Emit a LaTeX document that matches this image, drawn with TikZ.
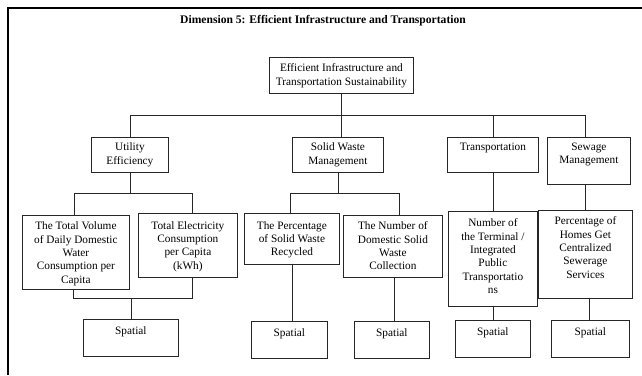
\documentclass[tikz,border=0pt]{standalone}
\usepackage{fontspec}
\setmainfont{Liberation Serif}
\begin{document}
\begin{tikzpicture}[x=1pt,y=-1pt,
  box/.style={draw=black!85, line width=0.8pt, rectangle, inner sep=0pt, anchor=north west},
  txt/.style={anchor=north, inner sep=0pt, align=center,
    font=\fontsize{11.3pt}{13.3pt}\selectfont},
  link/.style={draw=black!85, line width=0.8pt},
  frame/.style={draw=black, line width=2.5pt}]
\useasboundingbox (0,0) rectangle (642,375);

% outer frame (top and left edges)
\draw[frame] (8,375) -- (8,8) -- (642,8);

% heading
\node[font=\fontsize{11.6pt}{13pt}\selectfont\bfseries, inner sep=0pt] (title) at (323,21)
  {Dimension 5: Efficient Infrastructure and Transportation};

% root
\node[box, minimum width=144pt, minimum height=36pt] (top) at (269,57) {};
% categories
\node[box, minimum width=77pt, minimum height=35pt] (util) at (91,137) {};
\node[box, minimum width=91pt, minimum height=35pt] (sw) at (292,137) {};
\node[box, minimum width=91pt, minimum height=35pt] (trn) at (447,137) {};
\node[box, minimum width=83pt, minimum height=47pt] (sew) at (547,137) {};
% indicators
\node[box, minimum width=107pt, minimum height=74pt] (b1) at (22,215) {};
\node[box, minimum width=99pt, minimum height=64pt] (b2) at (138,213) {};
\node[box, minimum width=95pt, minimum height=51pt] (b3) at (244,213) {};
\node[box, minimum width=99pt, minimum height=62pt] (b4) at (343,215) {};
\node[box, minimum width=89pt, minimum height=95pt] (b5) at (448,211) {};
\node[box, minimum width=94pt, minimum height=88pt] (b6) at (538,210) {};
% measurement type
\node[box, minimum width=95pt, minimum height=37pt] (sp1) at (83,319) {};
\node[box, minimum width=76pt, minimum height=37pt] (sp2) at (251,321) {};
\node[box, minimum width=75pt, minimum height=37pt] (sp3) at (354,321) {};
\node[box, minimum width=75pt, minimum height=37pt] (sp4) at (455,320) {};
\node[box, minimum width=78pt, minimum height=37pt] (sp5) at (551,320) {};

% labels
\node[txt] (topT) at ([yshift=-6.8pt]top.north) {Efficient Infrastructure and\\Transportation Sustainability};
\node[txt] (utilT) at ([yshift=-5.8pt]util.north) {Utility\\Efficiency};
\node[txt] (swT) at ([yshift=-5.8pt]sw.north) {Solid Waste\\Management};
\node[txt] (trnT) at ([yshift=-5.8pt]trn.north) {Transportation};
\node[txt] (sewT) at ([yshift=-5.8pt]sew.north) {Sewage\\Management};
\node[txt] (b1T) at ([yshift=-6.8pt]b1.north) {The Total Volume\\of Daily Domestic\\Water\\Consumption per\\Capita};
\node[txt] (b2T) at ([yshift=-8.3pt]b2.north) {Total Electricity\\Consumption\\per Capita\\(kWh)};
\node[txt] (b3T) at ([yshift=-8.3pt]b3.north) {The Percentage\\of Solid Waste\\Recycled};
\node[txt] (b4T) at ([yshift=-6.8pt]b4.north) {The Number of\\Domestic Solid\\Waste\\Collection};
\node[txt] (b5T) at ([yshift=-7.8pt]b5.north) {Number of\\the Terminal /\\Integrated\\Public\\Transportatio\\ns};
\node[txt] (b6T) at ([yshift=-6.8pt]b6.north) {Percentage of\\Homes Get\\Centralized\\Sewerage\\Services};
\node[txt] (sp1T) at ([yshift=-7.3pt]sp1.north) {Spatial};
\node[txt] (sp2T) at ([yshift=-7.3pt]sp2.north) {Spatial};
\node[txt] (sp3T) at ([yshift=-7.3pt]sp3.north) {Spatial};
\node[txt] (sp4T) at ([yshift=-7.3pt]sp4.north) {Spatial};
\node[txt] (sp5T) at ([yshift=-7.3pt]sp5.north) {Spatial};

% bus levels
\coordinate (bus1) at (0,115);
\coordinate (bus2) at (0,193);
\coordinate (bus3) at (0,298);

% root to categories
\draw[link] (top.south) -- (top.south |- sw.north);
\draw[link] (util.north) |- ([xshift=-3.5pt]sew.north |- bus1) -- ([xshift=-3.5pt]sew.north);
\draw[link] (trn.north) -- (trn.north |- bus1);

% utility efficiency branch
\draw[link] (util.south) -- (util.south |- bus2);
\draw[link] ([xshift=-1.5pt]b1.north) |- ([xshift=4.5pt]b2.north |- bus2) -- ([xshift=4.5pt]b2.north);
\draw[link] ([xshift=-2.5pt]b1.south) |- ([xshift=4.5pt]b2.south |- bus3) -- ([xshift=4.5pt]b2.south);
\draw[link] (sp1.north) -- (sp1.north |- bus3);

% solid waste branch
\draw[link] (sw.south) -- (sw.south |- bus2);
\draw[link] ([xshift=-2pt]b3.north) |- ([xshift=6.5pt]b4.north |- bus2) -- ([xshift=6.5pt]b4.north);
\draw[link] (b3.south) -- (b3.south |- sp2.north);
\draw[link] ([xshift=1.5pt]b4.south) -- ([xshift=1.5pt]b4.south |- sp3.north);

% transportation branch
\draw[link] (trn.south) -- (trn.south |- b5.north);
\draw[link] (b5.south) -- (b5.south |- sp4.north);

% sewage branch
\draw[link] ([xshift=-3.5pt]sew.south) -- ([xshift=-3.5pt]sew.south |- b6.north);
\draw[link] ([xshift=4pt]b6.south) -- ([xshift=4pt]b6.south |- sp5.north);
\end{tikzpicture}
\end{document}
